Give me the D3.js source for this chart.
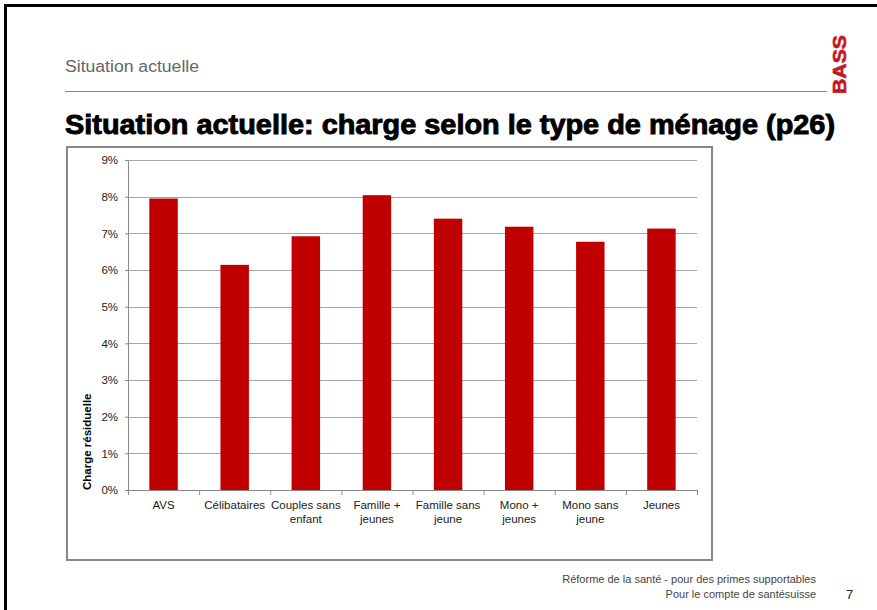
<!DOCTYPE html>
<html>
<head>
<meta charset="utf-8">
<script src="https://cdn.jsdelivr.net/npm/d3@7"></script>
<style>
  body { margin: 0; background: #fff; }
  svg { display: block; font-family: "Liberation Sans", Arial, sans-serif; }
</style>
</head>
<body>
<div id="chart"></div>
<script>
// data
const categories = [
  ["AVS"], ["Célibataires"], ["Couples sans", "enfant"], ["Famille +", "jeunes"],
  ["Famille sans", "jeune"], ["Mono +", "jeunes"], ["Mono sans", "jeune"], ["Jeunes"]
];
const values = [7.95, 6.14, 6.92, 8.04, 7.40, 7.18, 6.77, 7.13];
const yTicks = [0, 1, 2, 3, 4, 5, 6, 7, 8, 9];

const W = 877, H = 610;
const svg = d3.select("#chart").append("svg")
    .attr("width", W)
    .attr("height", H);

// slide frame (continues past the crop at right / bottom)
svg.append("rect")
    .attr("x", 5.5).attr("y", 5.5)
    .attr("width", W + 20).attr("height", H + 20)
    .attr("fill", "none").attr("stroke", "#000").attr("stroke-width", 3);

// header
svg.append("text")
    .attr("x", 65).attr("y", 72)
    .attr("font-size", 16).attr("fill", "#666")
    .attr("textLength", 134).attr("lengthAdjust", "spacingAndGlyphs")
    .text("Situation actuelle");

svg.append("line")
    .attr("x1", 65).attr("x2", 827)
    .attr("y1", 91.5).attr("y2", 91.5)
    .attr("stroke", "#888").attr("stroke-width", 1);

svg.append("text")
    .attr("transform", "translate(846,94) rotate(-90)")
    .attr("font-size", 18).attr("font-weight", "bold")
    .attr("fill", "#c4161c").attr("stroke", "#c4161c").attr("stroke-width", 0.6)
    .attr("textLength", 59).attr("lengthAdjust", "spacingAndGlyphs")
    .text("BASS");

svg.append("text")
    .attr("x", 65).attr("y", 134)
    .attr("font-size", 27).attr("font-weight", "bold").attr("fill", "#000")
    .attr("stroke", "#000").attr("stroke-width", 0.9)
    .attr("textLength", 770).attr("lengthAdjust", "spacingAndGlyphs")
    .text("Situation actuelle: charge selon le type de ménage (p26)");

// chart frame
svg.append("rect")
    .attr("x", 67).attr("y", 147)
    .attr("width", 645).attr("height", 413)
    .attr("fill", "#fff").attr("stroke", "#888").attr("stroke-width", 2);

// plot area
var margin = {top: 160, left: 128},
    width = 569,
    height = 490 - margin.top;

let g = svg.append("g")
    .attr("transform", "translate(" + margin.left + "," + margin.top + ")");

var x = d3.scaleBand()
    .domain(d3.range(categories.length))
    .range([0, width])
    .paddingInner(0.6)
    .paddingOuter(0.3);
var xGrid = d3.scaleBand().domain(d3.range(categories.length)).range([0, width]);
var y = d3.scaleLinear().domain([0, 9]).range([height, 0]);

// gridlines
g.append("g")
    .selectAll("line")
    .data(yTicks.filter(d => d > 0))
    .join("line")
    .attr("x1", 0).attr("x2", width)
    .attr("y1", d => Math.round(y(d)) + 0.5)
    .attr("y2", d => Math.round(y(d)) + 0.5)
    .attr("stroke", "#a6a6a6");

// bars
g.selectAll("rect.bar")
    .data(values)
    .join("rect")
    .attr("class", "bar")
    .attr("x", (d, i) => x(i))
    .attr("width", x.bandwidth())
    .attr("y", d => y(d))
    .attr("height", d => height - y(d))
    .attr("fill", "#c00000");

// Y axis
let yAxis = g.append("g")
    .call(d3.axisLeft(y).tickValues(yTicks).tickSize(3).tickSizeOuter(0)
        .tickPadding(7).tickFormat(d => d + "%"));
yAxis.select(".domain").attr("stroke", "#888");
yAxis.selectAll(".tick line").attr("stroke", "#888");
yAxis.selectAll("text").attr("font-size", 11.5).attr("fill", "#222")
    .attr("font-family", "Liberation Sans, Arial, sans-serif");

// X axis: ticks at category boundaries
let xAxis = g.append("g")
    .attr("transform", "translate(0," + height + ")");
xAxis.append("line")
    .attr("x1", 0).attr("x2", width)
    .attr("y1", 0.5).attr("y2", 0.5)
    .attr("stroke", "#888");
xAxis.selectAll("line.tk")
    .data(d3.range(categories.length + 1))
    .join("line")
    .attr("class", "tk")
    .attr("x1", i => i < categories.length ? xGrid(i) + 0.5 : width + 0.5)
    .attr("x2", i => i < categories.length ? xGrid(i) + 0.5 : width + 0.5)
    .attr("y1", 0).attr("y2", 5)
    .attr("stroke", "#888");

let lbl = xAxis.selectAll("text.cat")
    .data(categories)
    .join("text")
    .attr("class", "cat")
    .attr("x", (d, i) => xGrid(i) + xGrid.bandwidth() / 2)
    .attr("y", 19)
    .attr("text-anchor", "middle")
    .attr("font-size", 11.5).attr("fill", "#222");
lbl.selectAll("tspan")
    .data(d => d)
    .join("tspan")
    .attr("x", function() { return this.parentNode.getAttribute("x"); })
    .attr("dy", (d, i) => i === 0 ? 0 : 14)
    .text(d => d);

// Y axis title
svg.append("text")
    .attr("transform", "translate(91,490) rotate(-90)")
    .attr("font-size", 11.5).attr("font-weight", "bold").attr("fill", "#000")
    .text("Charge résiduelle");

// footer
svg.append("text")
    .attr("x", 816).attr("y", 583)
    .attr("text-anchor", "end")
    .attr("font-size", 11).attr("fill", "#444")
    .text("Réforme de la santé - pour des primes supportables");
svg.append("text")
    .attr("x", 816).attr("y", 598)
    .attr("text-anchor", "end")
    .attr("font-size", 11).attr("fill", "#444")
    .text("Pour le compte de santésuisse");
svg.append("text")
    .attr("x", 846).attr("y", 599)
    .attr("font-size", 13).attr("fill", "#222")
    .text("7");
</script>
</body>
</html>
